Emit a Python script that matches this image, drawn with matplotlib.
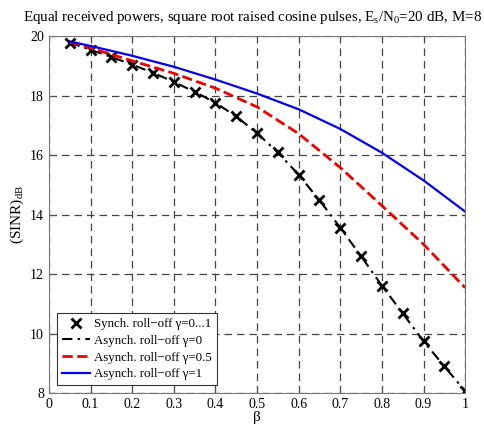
import matplotlib
matplotlib.use("Agg")
import matplotlib.pyplot as plt

plt.rcParams['font.family'] = ['Liberation Serif', 'DejaVu Serif']
plt.rcParams['mathtext.fontset'] = 'custom'
plt.rcParams['mathtext.rm'] = 'Liberation Serif'
plt.rcParams['mathtext.it'] = 'Liberation Serif:italic'

beta_sync = [0.05, 0.1, 0.15, 0.2, 0.25, 0.3, 0.35, 0.4, 0.45, 0.5,
             0.55, 0.6, 0.65, 0.7, 0.75, 0.8, 0.85, 0.9, 0.95, 1.0]
sinr_sync = [19.78, 19.54, 19.3, 19.04, 18.77, 18.46, 18.13, 17.76, 17.3, 16.74,
             16.09, 15.34, 14.48, 13.56, 12.6, 11.61, 10.68, 9.74, 8.9, 8.06]

beta_async = [0.05, 0.1, 0.2, 0.3, 0.4, 0.5, 0.6, 0.7, 0.8, 0.9, 1.0]
sinr_g05 = [19.8, 19.6, 19.17, 18.75, 18.25, 17.62, 16.72, 15.58, 14.3, 13.0, 11.54]
sinr_g1 = [19.82, 19.67, 19.34, 18.97, 18.54, 18.07, 17.54, 16.88, 16.08, 15.15, 14.1]

xticks = [0, 0.1, 0.2, 0.3, 0.4, 0.5, 0.6, 0.7, 0.8, 0.9, 1]
xticklabels = ['0', '0.1', '0.2', '0.3', '0.4', '0.5', '0.6', '0.7', '0.8', '0.9', '1']
yticks = [8, 10, 12, 14, 16, 18, 20]

fig = plt.figure(figsize=(4.84, 4.25), dpi=100)
ax = fig.add_axes([0.101, 0.0753, 0.86, 0.8397])

ax.plot(beta_sync, sinr_sync, linestyle='none', marker='x', color='black',
        markersize=6.5, markeredgewidth=2, label='Synch. roll\u2212off \u03b3=0...1')
ax.plot(beta_sync, sinr_sync, linestyle=(0, (5, 2.5, 1.2, 2.5)), color='black', linewidth=1.5,
        label='Asynch. roll\u2212off \u03b3=0')
ax.plot(beta_async, sinr_g05, linestyle='--', color='#ee0000', linewidth=2,
        label='Asynch. roll\u2212off \u03b3=0.5')
ax.plot(beta_async, sinr_g1, linestyle='-', color='#0000ee', linewidth=1.6,
        label='Asynch. roll\u2212off \u03b3=1')

ax.set_xlim(0, 1)
ax.set_ylim(8, 20)
ax.set_xticks(xticks)
ax.set_xticklabels(xticklabels)
ax.set_yticks(yticks)
ax.tick_params(direction='in', labelsize=10, length=4, color='#555555')
ax.grid(True, linestyle=(0, (6, 4)), color='#444444', linewidth=0.9)
for s in ax.spines.values():
    s.set_color('#777777')

ax.set_xlabel('\u03b2', fontsize=11, labelpad=0)
ax.set_ylabel(r'(SINR)$_{\rm dB}$', fontsize=11, labelpad=3)
ax.set_title(r'Equal received powers, square root raised cosine pulses, E$_{\rm s}$/N$_{\rm 0}$=20 dB, M=8',
             fontsize=10.8, pad=11, x=0.49)

leg = ax.legend(loc='lower left', fontsize=9.3, fancybox=False, framealpha=1,
                edgecolor='#333333', borderaxespad=0.6, handlelength=2.2,
                handletextpad=0.3, borderpad=0.4, labelspacing=0.35)
leg.get_frame().set_linewidth(0.8)

fig.savefig('out.png', dpi=100)
